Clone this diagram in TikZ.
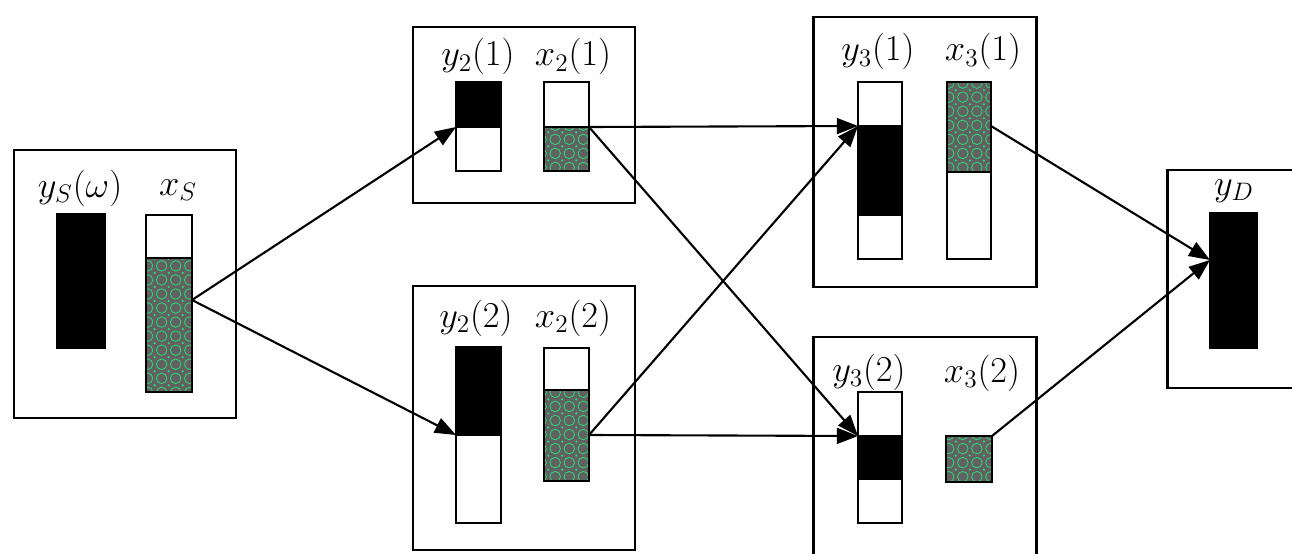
\documentclass[tikz,border=0pt]{standalone}
\usetikzlibrary{arrows.meta,patterns}
\definecolor{dotgreen}{RGB}{40,220,120}
\pgfdeclarepatternformonly{gdots}{\pgfpoint{-1pt}{-1pt}}{\pgfpoint{9pt}{9pt}}{\pgfpoint{8pt}{8pt}}{%
  \pgfsetlinewidth{0.45pt}%
  \pgfpathcircle{\pgfpoint{4pt}{4pt}}{3pt}\pgfusepath{stroke}%
  \pgfpathcircle{\pgfpointorigin}{0.7pt}\pgfusepath{fill}%
}
\begin{document}
\begin{tikzpicture}[x=0.02cm,y=-0.02cm,
  frame/.style={draw,line width=1.7pt},
  bar/.style={draw,line width=1.1pt},
  solidpart/.style={fill=black},
  hatchbase/.style={fill=black!62},
  hatchdots/.style={pattern=gdots,pattern color=dotgreen},
  lbl/.style={anchor=base,inner sep=0pt,font=\fontsize{22}{26}\selectfont},
  conn/.style={line width=1.2pt,-{Triangle[length=12pt,width=9pt]}}]
\useasboundingbox (0,0) rectangle (1292,554);

% frames
\draw[frame] (14,150) rectangle (236,418);
\draw[frame] (413,27) rectangle (635,203);
\draw[frame] (413,286) rectangle (635,550);
\draw[frame] (813,17) rectangle (1036,287);
\draw[frame] (813,337) rectangle (1036,562);
\draw[frame] (1167,170) rectangle (1300,388);

% hatched parts
\foreach \a/\b in {{(146,258)}/{(192,392)},{(544,127)}/{(589,171)},{(544,390)}/{(589,481)},{(947,82)}/{(991,172)},{(946,436)}/{(992,482)}}{
  \fill[hatchbase] \a rectangle \b;
  \fill[hatchdots] \a rectangle \b;
}

% solid parts
\fill[solidpart] (57,214) rectangle (105,348);
\fill[solidpart] (456,82) rectangle (501,127);
\fill[solidpart] (456,347) rectangle (501,435);
\fill[solidpart] (858,126) rectangle (902,215);
\fill[solidpart] (858,436) rectangle (902,479);
\fill[solidpart] (1210,213) rectangle (1257,348);

% bar outlines
\draw[bar] (146,215) rectangle (192,392) (146,258) -- (192,258);
\draw[bar] (456,82) rectangle (501,171) (456,127) -- (501,127);
\draw[bar] (544,82) rectangle (589,171) (544,127) -- (589,127);
\draw[bar] (456,347) rectangle (501,523) (456,435) -- (501,435);
\draw[bar] (544,348) rectangle (589,481) (544,390) -- (589,390);
\draw[bar] (858,82) rectangle (902,259) (858,126) -- (902,126) (858,215) -- (902,215);
\draw[bar] (947,82) rectangle (991,259) (947,172) -- (991,172);
\draw[bar] (858,392) rectangle (902,523) (858,436) -- (902,436) (858,479) -- (902,479);
\draw[bar] (946,436) rectangle (992,482);
\draw[bar] (57,214) rectangle (105,348);
\draw[bar] (1210,213) rectangle (1257,348);

% connection points
\coordinate (sout) at (192,300);
\coordinate (y21in) at (456,127);
\coordinate (y22in) at (456,435);
\coordinate (x21out) at (589,127);
\coordinate (x22out) at (589,435);
\coordinate (y31in) at (858,126);
\coordinate (y32in) at (858,436);
\coordinate (x31out) at (991,126);
\coordinate (x32out) at (992,436);
\coordinate (ydin) at (1210,260);

\draw[conn] (sout) -- (y21in);
\draw[conn] (sout) -- (y22in);
\draw[conn] (x21out) -- (y31in);
\draw[conn] (x21out) -- (y32in);
\draw[conn] (x22out) -- (y31in);
\draw[conn] (x22out) -- (y32in);
\draw[conn] (x31out) -- (ydin);
\draw[conn] (x32out) -- (ydin);

% labels
\node[lbl] (lys) at (80,197) {$y_S(\omega)$};
\node[lbl] (lxs) at (178,195) {$x_S$};
\node[lbl] (ly21) at (478,66) {$y_2(1)$};
\node[lbl] (lx21) at (573,66) {$x_2(1)$};
\node[lbl] (ly22) at (476,327) {$y_2(2)$};
\node[lbl] (lx22) at (573,327) {$x_2(2)$};
\node[lbl] (ly31) at (878,61) {$y_3(1)$};
\node[lbl] (lx31) at (983,61) {$x_3(1)$};
\node[lbl] (ly32) at (869,381) {$y_3(2)$};
\node[lbl] (lx32) at (982,382) {$x_3(2)$};
\node[lbl] (lyd) at (1234,195) {$y_D$};
\end{tikzpicture}
\end{document}
